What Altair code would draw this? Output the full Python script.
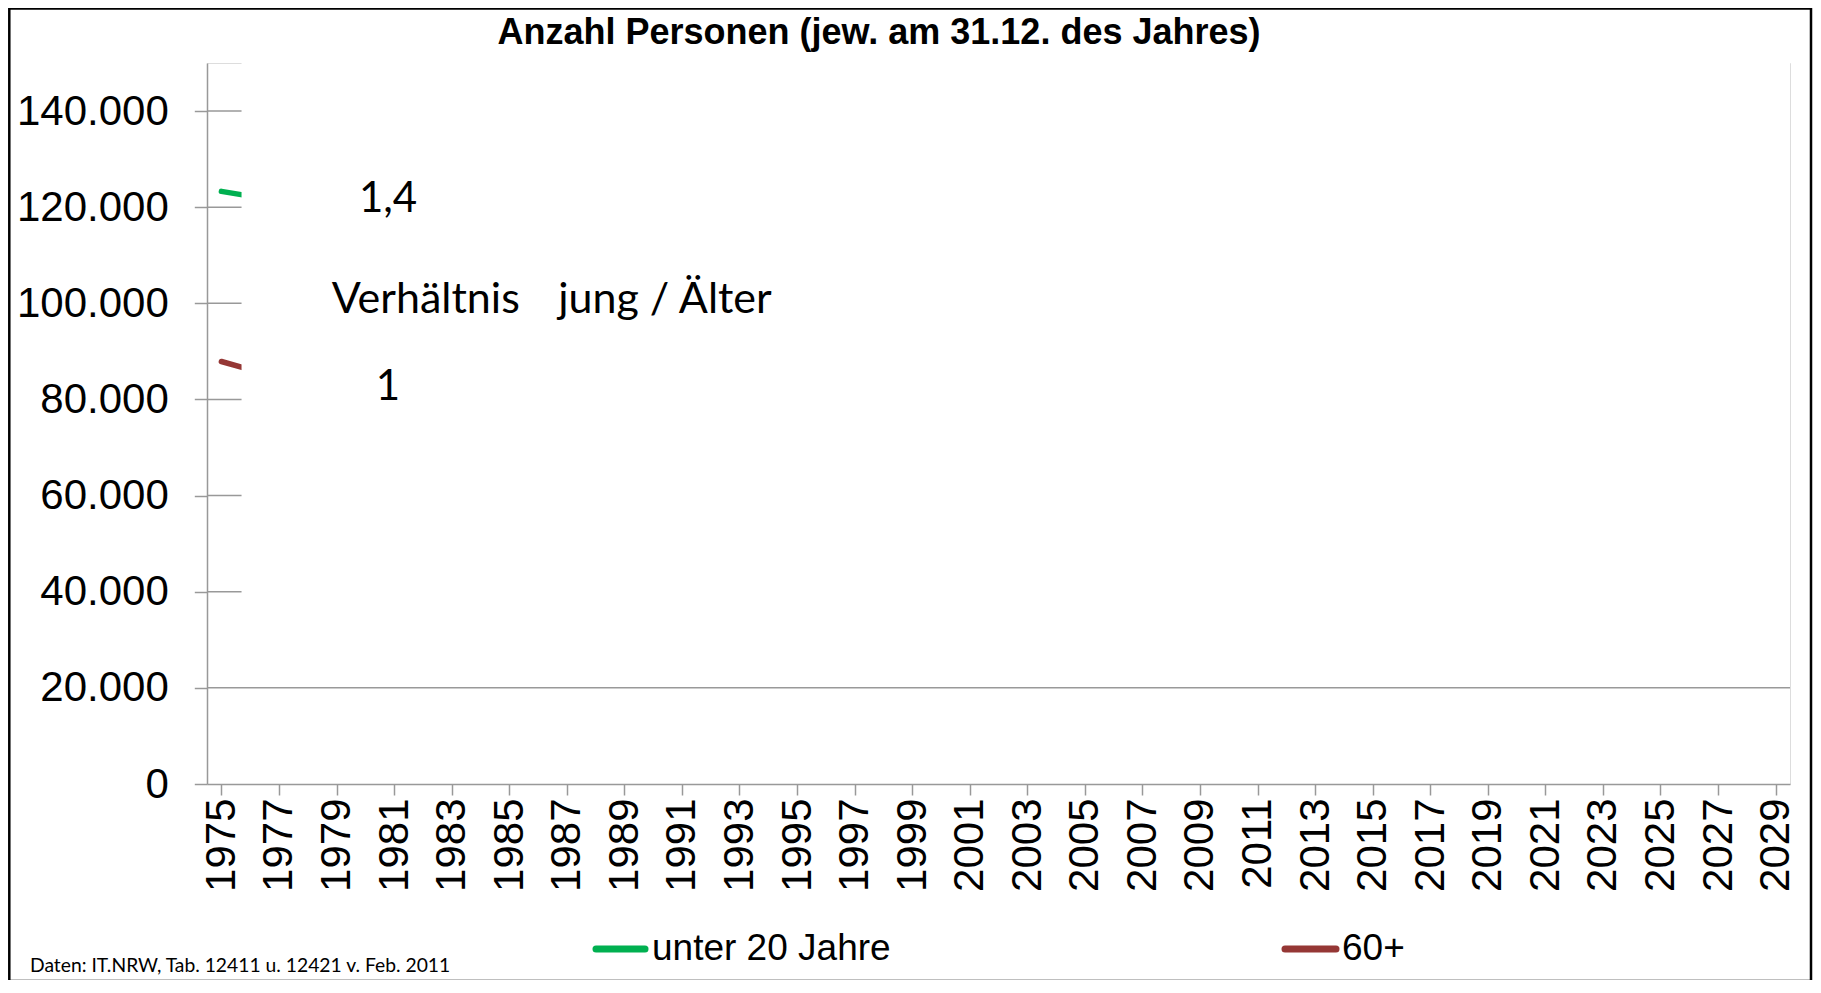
import altair as alt
import pandas as pd

# ---------------- data ----------------
years = [1975, 1976]
under20 = [123300, 122300]
over60 = [87900, 86200]
series_names = ["unter 20 Jahre", "60+"]
series_colors = ["#00B050", "#953735"]
reveal_year = 1975.7          # the lines are only drawn up to here
x_start, x_end = 1974.5, 2029.5
y_ticks = [0, 20000, 40000, 60000, 80000, 100000, 120000, 140000]
y_max = 150000
x_tick_years = list(range(1975, 2030)) + [2029.5]
title_text = "Anzahl Personen (jew. am 31.12. des Jahres)"
ratio_labels = ["1,4", "Verhältnis\u00a0\u00a0\u00a0\u2009jung / Älter", "1"]
source_text = "Daten: IT.NRW, Tab. 12411 u. 12421 v. Feb. 2011"

W, H = 1583, 721
GRAY = "#999999"

df = pd.DataFrame({
    "Jahr": years * 2,
    "Personen": under20 + over60,
    "Gruppe": [series_names[0]] * len(years) + [series_names[1]] * len(years),
})

x_scale = alt.Scale(domain=[x_start, x_end], nice=False, zero=False)
y_scale = alt.Scale(domain=[0, y_max], nice=False)

x_axis = alt.Axis(
    values=x_tick_years,
    labelExpr="datum.value % 2 == 1 ? format(datum.value, 'd') : ''",
    labelAngle=270, labelFont="Liberation Sans", labelFontSize=42, labelColor="black",
    labelPadding=3, labelOverlap=False, labelFlush=False, labelBound=False,
    tickSize=11, tickColor=GRAY, tickWidth=1.5,
    domainColor=GRAY, domainWidth=1.5, grid=False, title=None, zindex=1,
)
y_axis = alt.Axis(
    values=y_ticks,
    labelExpr="replace(format(datum.value, ','), ',', '.')",
    labelFont="Liberation Sans", labelFontSize=42, labelColor="black",
    labelPadding=26, labelOverlap=False, labelFlush=False, labelBound=False,
    tickSize=12.7, tickColor=GRAY, tickWidth=1.5,
    domainColor=GRAY, domainWidth=1.5, grid=False, title=None, zindex=1,
)

one = alt.Data(values=[{}])

# gridlines (clipped by the reveal curtain below)
grid_upper = alt.Chart(pd.DataFrame({"Personen": y_ticks[2:]})).mark_rule(
    color=GRAY, strokeWidth=1.5
).encode(
    y=alt.Y("Personen:Q", scale=y_scale, axis=y_axis),
    x=alt.value(0), x2=alt.value(W),
)

lines = alt.Chart(df).mark_line(strokeWidth=5.5, strokeCap="round").encode(
    x=alt.X("Jahr:Q", scale=x_scale, axis=x_axis),
    y=alt.Y("Personen:Q", scale=y_scale, title=None),
    color=alt.Color("Gruppe:N", scale=alt.Scale(domain=series_names, range=series_colors), legend=None),
)

curtain = alt.Chart(pd.DataFrame({"a": [reveal_year], "b": [x_end]})).mark_rect(
    color="white"
).encode(
    x=alt.X("a:Q", scale=x_scale, title=None),
    x2="b:Q",
    y=alt.value(-1), y2=alt.value(H - 1),
)

grid20 = alt.Chart(pd.DataFrame({"Personen": [y_ticks[1]]})).mark_rule(
    color=GRAY, strokeWidth=1.5
).encode(
    y=alt.Y("Personen:Q", scale=y_scale, title=None),
    x=alt.value(0), x2=alt.value(W),
)


def text_layer(txt, x, y, **kw):
    return alt.Chart(alt.Data(values=[{"t": txt}])).mark_text(**kw).encode(
        text="t:N", x=alt.value(x), y=alt.value(y)
    )


ann1 = text_layer(ratio_labels[0], 181, 148.7, font="Lato", fontSize=42, align="center",
                  baseline="alphabetic", color="black")
ann2 = text_layer(ratio_labels[1], 124.7, 250.3, font="Lato", fontSize=43, align="left",
                  baseline="alphabetic", color="black")
ann3 = text_layer(ratio_labels[2], 181, 337, font="Lato", fontSize=42, align="center",
                  baseline="alphabetic", color="black")

title = text_layer(title_text, 672, -19, font="Liberation Sans", fontSize=36, fontWeight="bold",
                   align="center", baseline="alphabetic", color="black")
source = text_layer(source_text, -177, 909, font="Lato", fontSize=19.3, align="left",
                    baseline="alphabetic", color="black")

# legend
leg_font = "Liberation Sans"
leg_g_sym = alt.Chart(one).mark_rule(color=series_colors[0], strokeWidth=7, strokeCap="round").encode(
    x=alt.value(389), x2=alt.value(438), y=alt.value(886))
leg_g_txt = text_layer(series_names[0], 445, 886, font=leg_font, fontSize=37, align="left",
                       baseline="middle", color="black")
leg_r_sym = alt.Chart(one).mark_rule(color=series_colors[1], strokeWidth=7, strokeCap="round").encode(
    x=alt.value(1078), x2=alt.value(1129), y=alt.value(886))
leg_r_txt = text_layer(series_names[1], 1135, 886, font=leg_font, fontSize=37, align="left",
                       baseline="middle", color="black")

border = alt.Chart(one).mark_rect(fillOpacity=0, stroke="black", strokeWidth=2.5).encode(
    x=alt.value(-197.7), x2=alt.value(1604), y=alt.value(-54.5), y2=alt.value(918))

chart = alt.layer(
    grid_upper, lines, curtain, grid20, ann1, ann2, ann3,
    title, source, leg_g_sym, leg_g_txt, leg_r_sym, leg_r_txt, border,
).properties(
    width=W, height=H,
    autosize=alt.AutoSizeParams(type="none"),
    padding={"left": 199, "top": 55, "right": 23, "bottom": 196},
).configure_view(stroke=None).configure(background="white")

chart.save("out.html", embed_options={"renderer": "svg", "actions": False})
